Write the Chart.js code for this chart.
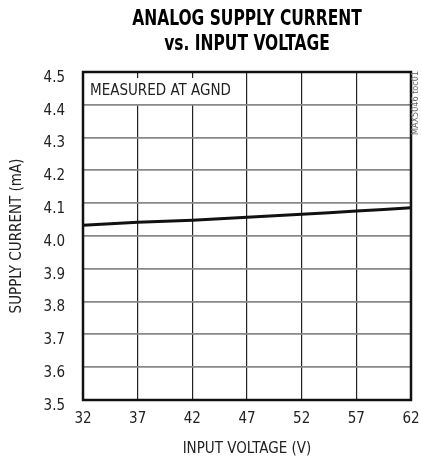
<!DOCTYPE html>
<html>
<head>
<meta charset="utf-8">
<script src="https://cdn.jsdelivr.net/npm/chart.js@4/dist/chart.umd.min.js"></script>
<style>
  html, body { margin: 0; padding: 0; background: #fff; }
  #wrap { width: 421px; height: 459px; position: relative; }
</style>
</head>
<body>
<div id="wrap"><canvas id="c" width="421" height="459"></canvas></div>
<script>
// Analog supply current measured at AGND versus input voltage
const inputVoltage  = [32, 37, 42, 47, 52, 57, 62];                        // V
const supplyCurrent = [4.033, 4.042, 4.048, 4.057, 4.066, 4.076, 4.086];   // mA
const xTickValues   = [32, 37, 42, 47, 52, 57, 62];
const yTickValues   = [3.5, 3.6, 3.7, 3.8, 3.9, 4.0, 4.1, 4.2, 4.3, 4.4, 4.5];

const titleLines = ['ANALOG SUPPLY CURRENT', 'vs. INPUT VOLTAGE'];
const noteText   = 'MEASURED AT AGND';
const sideText   = 'MAX5046 toc01';

const NARROW = "'Liberation Sans Narrow', 'DejaVu Sans Condensed', 'Arial Narrow', sans-serif";

const points = inputVoltage.map((v, i) => ({ x: v, y: supplyCurrent[i] }));

// Title, note box, frame and side label
const decorations = {
  id: 'decorations',
  afterDatasetsDraw(chart) {
    const { ctx, chartArea: a } = chart;
    ctx.save();

    // note box in the upper-left corner
    ctx.fillStyle = '#fff';
    ctx.fillRect(a.left + 1, a.top + 6, 160, 26);
    ctx.fillStyle = '#222';
    ctx.font = '15px ' + NARROW;
    ctx.textAlign = 'left';
    ctx.textBaseline = 'middle';
    ctx.fillText(noteText, a.left + 7, a.top + 19);

    // frame
    ctx.strokeStyle = '#111';
    ctx.lineWidth = 2.5;
    ctx.strokeRect(a.left, a.top, a.right - a.left, a.bottom - a.top);

    // title, condensed horizontally
    const cx = (a.left + a.right) / 2;
    ctx.save();
    ctx.translate(cx, 0);
    ctx.scale(0.82, 1);
    ctx.fillStyle = '#000';
    ctx.font = 'bold 21px ' + NARROW;
    ctx.textAlign = 'center';
    ctx.fillText(titleLines[0], 0, 20);
    ctx.fillText(titleLines[1], 0, 45);
    ctx.restore();

    // small vertical label at the right edge
    ctx.translate(416, a.top + 31);
    ctx.rotate(-Math.PI / 2);
    ctx.fillStyle = '#666';
    ctx.font = '9px ' + NARROW;
    ctx.textAlign = 'center';
    ctx.fillText(sideText, 0, 0);

    ctx.restore();
  }
};

new Chart(document.getElementById('c'), {
  type: 'line',
  data: {
    datasets: [{
      data: points,
      borderColor: '#111',
      borderWidth: 3,
      pointRadius: 0,
      tension: 0.3,
      fill: false
    }]
  },
  options: {
    responsive: false,
    animation: false,
    events: [],
    layout: { padding: { left: 0, right: 10, top: 72, bottom: 0 } },
    plugins: {
      legend: { display: false },
      tooltip: { enabled: false },
      title: { display: false }
    },
    scales: {
      x: {
        type: 'linear',
        min: 32,
        max: 62,
        afterFit(s) { s.height = 59; s.paddingLeft = 0; s.paddingRight = 0; },
        afterBuildTicks(s) { s.ticks = xTickValues.map(v => ({ value: v })); },
        grid: { color: '#222', lineWidth: 1.2, drawTicks: false },
        border: { display: false },
        ticks: {
          padding: 10,
          color: '#222',
          font: { family: NARROW, size: 15 },
          callback: v => String(v)
        },
        title: {
          display: true,
          text: 'INPUT VOLTAGE (V)',
          color: '#222',
          font: { family: NARROW, size: 15 },
          padding: { top: 4, bottom: 1 }
        }
      },
      y: {
        type: 'linear',
        min: 3.5,
        max: 4.5,
        afterFit(s) { s.width = 83; s.paddingTop = 0; s.paddingBottom = 0; },
        afterBuildTicks(s) { s.ticks = yTickValues.map(v => ({ value: v })); },
        grid: { color: '#888', lineWidth: 1.8, drawTicks: false },
        border: { display: false },
        ticks: {
          padding: 18,
          labelOffset: 6,
          color: '#222',
          font: { family: NARROW, size: 15 },
          callback: v => Number(v).toFixed(1)
        },
        title: {
          display: true,
          text: 'SUPPLY CURRENT (mA)',
          color: '#222',
          font: { family: NARROW, size: 15 },
          padding: { top: 8, bottom: 0 }
        }
      }
    }
  },
  plugins: [decorations]
});
</script>
</body>
</html>
